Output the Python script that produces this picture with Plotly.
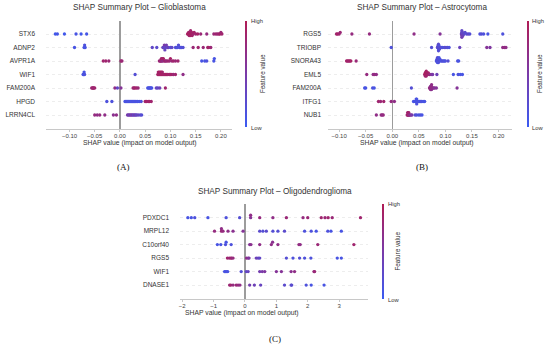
import numpy as np
import plotly.graph_objects as go

W, H = 550, 350

# ---------------- Panel A: Glioblastoma ----------------
gbm_features = ["STX6", "ADNP2", "AVPR1A", "WIF1", "FAM200A", "HPGD", "LRRN4CL"]
gbm_stx6_shap = [-0.128, -0.124, -0.110, -0.087, -0.077, -0.066, 0.134, 0.135, 0.136, 0.137, 0.138, 0.138,
                 0.139, 0.140, 0.141, 0.142, 0.143, 0.145, 0.147, 0.150, 0.154, 0.160, 0.172, 0.186,
                 0.190, 0.193, 0.196, 0.198, 0.200, 0.202]
gbm_stx6_feat = [0.05, 0.08, 0.05, 0.1, 0.05, 0.08, 0.9, 0.95, 0.9, 0.85, 0.95, 0.9, 0.9, 0.85, 0.95, 0.9,
                 0.9, 0.85, 0.9, 0.85, 0.9, 0.8, 0.75, 0.8, 0.85, 0.8, 0.85, 0.9, 0.8, 0.85]
gbm_adnp2_shap = [-0.090, -0.071, -0.070, -0.069, 0.064, 0.073, 0.085, 0.087, 0.088, 0.089, 0.090, 0.092,
                  0.094, 0.096, 0.100, 0.103, 0.110, 0.112, 0.114, 0.116, 0.118, 0.120, 0.122, 0.125,
                  0.145, 0.155, 0.165, 0.174, 0.176, 0.180]
gbm_adnp2_feat = [0.1, 0.1, 0.15, 0.1, 0.3, 0.25, 0.4, 0.3, 0.5, 0.35, 0.3, 0.45, 0.3, 0.4, 0.2, 0.3, 0.15,
                  0.2, 0.15, 0.2, 0.15, 0.2, 0.15, 0.2, 0.8, 0.85, 0.8, 0.85, 0.9, 0.8]
gbm_avpr1a_shap = [-0.033, -0.028, -0.022, 0.002, 0.004, 0.078, 0.080, 0.081, 0.082, 0.083, 0.084, 0.085,
                   0.086, 0.088, 0.090, 0.092, 0.095, 0.098, 0.100, 0.103, 0.106, 0.110, 0.115,
                   0.162, 0.168, 0.172, 0.186, 0.187]
gbm_avpr1a_feat = [0.85, 0.85, 0.8, 0.85, 0.8, 0.8, 0.85, 0.75, 0.9, 0.8, 0.85, 0.7, 0.9, 0.8, 0.85, 0.75,
                   0.85, 0.8, 0.9, 0.8, 0.85, 0.8, 0.85, 0.1, 0.1, 0.15, 0.1, 0.1]
gbm_wif1_shap = [-0.073, -0.072, -0.071, -0.070, 0.030, 0.075, 0.076, 0.077, 0.078, 0.079, 0.080, 0.081,
                 0.082, 0.083, 0.084, 0.085, 0.087, 0.089, 0.091, 0.093, 0.095, 0.098, 0.100, 0.103,
                 0.106, 0.110, 0.125]
gbm_wif1_feat = [0.1, 0.1, 0.1, 0.15, 0.2, 0.9, 0.85, 0.9, 0.95, 0.9, 0.85, 0.9, 0.95, 0.9, 0.85, 0.9, 0.9,
                 0.85, 0.9, 0.95, 0.85, 0.9, 0.85, 0.9, 0.8, 0.85, 0.7]
gbm_fam200a_shap = [-0.056, -0.054, -0.053, -0.052, -0.050, -0.010, -0.005, 0.002, 0.026, 0.028, 0.030,
                    0.033, 0.036, 0.055, 0.057, 0.058, 0.060, 0.061, 0.063, 0.072, 0.075, 0.079, 0.090]
gbm_fam200a_feat = [0.8, 0.85, 0.9, 0.8, 0.85, 0.7, 0.3, 0.6, 0.85, 0.8, 0.9, 0.85, 0.8, 0.1, 0.15, 0.1,
                    0.1, 0.15, 0.1, 0.35, 0.3, 0.4, 0.85]
gbm_hpgd_shap = [-0.026, -0.016, 0.010, 0.012, 0.014, 0.016, 0.018, 0.020, 0.022, 0.024, 0.026, 0.028,
                 0.030, 0.032, 0.035, 0.038, 0.042, 0.050, 0.053, 0.056, 0.059, 0.062]
gbm_hpgd_feat = [0.15, 0.15, 0.1, 0.1, 0.15, 0.1, 0.1, 0.15, 0.1, 0.1, 0.15, 0.1, 0.1, 0.15, 0.1, 0.1, 0.15,
                 0.85, 0.9, 0.85, 0.9, 0.85]
gbm_lrrn4cl_shap = [-0.050, -0.045, -0.040, -0.030, -0.013, -0.007, 0.015, 0.017, 0.019, 0.021, 0.023,
                    0.025, 0.027, 0.029, 0.031, 0.033, 0.036, 0.040, 0.043]
gbm_lrrn4cl_feat = [0.75, 0.7, 0.75, 0.7, 0.65, 0.7, 0.45, 0.5, 0.35, 0.55, 0.4, 0.5, 0.3, 0.45, 0.4, 0.3,
                    0.35, 0.25, 0.2]

# ---------------- Panel B: Astrocytoma ----------------
ast_features = ["RGS5", "TRIOBP", "SNORA43", "EML5", "FAM200A", "ITFG1", "NUB1"]
ast_rgs5_shap = [-0.105, -0.103, -0.100, -0.098, -0.076, -0.043, 0.041, 0.090, 0.130, 0.131, 0.131,
                 0.131, 0.131, 0.132, 0.132, 0.133, 0.135, 0.137, 0.140, 0.143, 0.146, 0.165, 0.168,
                 0.172, 0.180, 0.208]
ast_rgs5_feat = [0.85, 0.9, 0.85, 0.8, 0.75, 0.75, 0.7, 0.6, 0.4, 0.35, 0.5, 0.3, 0.45, 0.35, 0.3, 0.4,
                 0.3, 0.25, 0.2, 0.3, 0.2, 0.15, 0.2, 0.15, 0.1, 0.15]
ast_triobp_shap = [-0.002, 0.074, 0.085, 0.086, 0.086, 0.087, 0.087, 0.087, 0.088, 0.088, 0.089, 0.090,
                   0.092, 0.095, 0.098, 0.101, 0.104, 0.107, 0.127, 0.178, 0.184, 0.208, 0.211, 0.214]
ast_triobp_feat = [0.15, 0.2, 0.25, 0.2, 0.3, 0.15, 0.25, 0.2, 0.3, 0.15, 0.2, 0.25, 0.2, 0.15, 0.2, 0.25,
                   0.2, 0.15, 0.35, 0.6, 0.55, 0.7, 0.75, 0.7]
ast_snora43_shap = [-0.086, -0.084, -0.082, -0.080, -0.078, -0.068, 0.083, 0.084, 0.084, 0.085, 0.085,
                    0.086, 0.086, 0.087, 0.088, 0.089, 0.090, 0.092, 0.094, 0.096, 0.098, 0.100, 0.105,
                    0.123, 0.125]
ast_snora43_feat = [0.9, 0.85, 0.9, 0.85, 0.9, 0.8, 0.15, 0.2, 0.1, 0.15, 0.25, 0.1, 0.2, 0.15, 0.1, 0.2,
                    0.15, 0.1, 0.15, 0.2, 0.1, 0.15, 0.2, 0.15, 0.1]
ast_eml5_shap = [-0.048, -0.036, -0.033, -0.030, 0.061, 0.062, 0.062, 0.063, 0.063, 0.064, 0.064, 0.065,
                 0.066, 0.067, 0.068, 0.070, 0.073, 0.076, 0.084, 0.115, 0.124, 0.128, 0.132]
ast_eml5_feat = [0.75, 0.7, 0.75, 0.7, 0.9, 0.95, 0.85, 0.9, 0.95, 0.85, 0.9, 0.95, 0.9, 0.85, 0.9, 0.8,
                 0.6, 0.5, 0.4, 0.1, 0.15, 0.1, 0.1]
ast_fam200a_shap = [-0.052, -0.050, -0.037, -0.034, 0.036, 0.070, 0.071, 0.072, 0.072, 0.073, 0.073,
                    0.074, 0.074, 0.075, 0.076, 0.078, 0.080, 0.083, 0.122]
ast_fam200a_feat = [0.1, 0.1, 0.15, 0.1, 0.2, 0.7, 0.75, 0.65, 0.7, 0.75, 0.7, 0.65, 0.7, 0.75, 0.7, 0.65,
                    0.6, 0.6, 0.6]
ast_itfg1_shap = [-0.026, -0.022, -0.016, -0.002, 0.004, 0.040, 0.043, 0.044, 0.045, 0.045, 0.046, 0.046,
                  0.046, 0.047, 0.048, 0.049, 0.051, 0.053, 0.055, 0.058, 0.061]
ast_itfg1_feat = [0.85, 0.8, 0.85, 0.75, 0.7, 0.1, 0.15, 0.1, 0.1, 0.15, 0.1, 0.1, 0.15, 0.1, 0.1, 0.15,
                  0.1, 0.1, 0.15, 0.1, 0.1]
ast_nub1_shap = [-0.030, -0.021, -0.019, -0.017, 0.028, 0.029, 0.029, 0.030, 0.030, 0.031, 0.031, 0.032,
                 0.033, 0.035, 0.037, 0.043, 0.046, 0.050, 0.053, 0.056]
ast_nub1_feat = [0.7, 0.75, 0.7, 0.75, 0.85, 0.9, 0.8, 0.85, 0.9, 0.75, 0.85, 0.8, 0.7, 0.6, 0.5, 0.2,
                 0.15, 0.1, 0.15, 0.1]

# ---------------- Panel C: Oligodendroglioma ----------------
oli_features = ["PDXDC1", "MRPL12", "C10orf40", "RGS5", "WIF1", "DNASE1"]
oli_pdxdc1_shap = [-1.82, -1.71, -1.60, -1.18, -0.60, -0.17, 0.18, 0.18, 0.47, 0.89, 1.32, 1.85, 2.00,
                   2.43, 2.55, 2.65, 2.78, 3.68]
oli_pdxdc1_feat = [0.1, 0.1, 0.15, 0.1, 0.15, 0.2, 0.6, 0.7, 0.75, 0.7, 0.8, 0.75, 0.8, 0.85, 0.8, 0.85,
                   0.8, 0.85]
oli_mrpl12_shap = [-0.97, -0.75, -0.75, -0.70, -0.54, -0.38, -0.06, 0.47, 0.57, 0.68, 0.89, 1.05, 1.26,
                   1.90, 2.11, 2.27, 2.64, 2.74, 3.07]
oli_mrpl12_feat = [0.75, 0.8, 0.7, 0.75, 0.7, 0.65, 0.6, 0.25, 0.2, 0.25, 0.2, 0.2, 0.25, 0.15, 0.15, 0.1,
                   0.15, 0.1, 0.1]
oli_c10orf40_shap = [-0.88, -0.77, -0.62, -0.60, -0.44, 0.15, 0.19, 0.47, 0.84, 0.88, 1.05, 1.72, 1.76,
                     2.32, 3.47]
oli_c10orf40_feat = [0.1, 0.1, 0.15, 0.1, 0.15, 0.6, 0.65, 0.7, 0.7, 0.65, 0.7, 0.75, 0.7, 0.8, 0.85]
oli_rgs5_shap = [-0.56, -0.50, -0.45, -0.42, -0.38, 0.05, 0.10, 0.13, 0.36, 0.42, 0.47, 1.32, 1.53, 1.74,
                 1.90, 2.10, 2.94, 3.07]
oli_rgs5_feat = [0.85, 0.8, 0.85, 0.8, 0.75, 0.7, 0.6, 0.55, 0.4, 0.35, 0.3, 0.2, 0.15, 0.2, 0.15, 0.15,
                 0.1, 0.1]
oli_wif1_shap = [-0.65, -0.62, -0.58, -0.55, -0.12, 0.04, 0.10, 0.47, 0.55, 0.63, 1.00, 1.16, 1.47, 1.58,
                 2.20, 2.22]
oli_wif1_feat = [0.1, 0.1, 0.15, 0.1, 0.2, 0.3, 0.35, 0.45, 0.5, 0.55, 0.6, 0.6, 0.65, 0.7, 0.75, 0.8]
oli_dnase1_shap = [-0.49, -0.45, -0.38, -0.28, -0.22, -0.16, 0.15, 0.30, 0.50, 1.26, 1.47, 1.49, 1.95,
                   2.11, 2.52]
oli_dnase1_feat = [0.8, 0.85, 0.75, 0.8, 0.75, 0.7, 0.45, 0.4, 0.35, 0.25, 0.2, 0.25, 0.15, 0.1, 0.1]

gbm_shap = [gbm_stx6_shap, gbm_adnp2_shap, gbm_avpr1a_shap, gbm_wif1_shap, gbm_fam200a_shap,
            gbm_hpgd_shap, gbm_lrrn4cl_shap]
gbm_feat = [gbm_stx6_feat, gbm_adnp2_feat, gbm_avpr1a_feat, gbm_wif1_feat, gbm_fam200a_feat,
            gbm_hpgd_feat, gbm_lrrn4cl_feat]
ast_shap = [ast_rgs5_shap, ast_triobp_shap, ast_snora43_shap, ast_eml5_shap, ast_fam200a_shap,
            ast_itfg1_shap, ast_nub1_shap]
ast_feat = [ast_rgs5_feat, ast_triobp_feat, ast_snora43_feat, ast_eml5_feat, ast_fam200a_feat,
            ast_itfg1_feat, ast_nub1_feat]
oli_shap = [oli_pdxdc1_shap, oli_mrpl12_shap, oli_c10orf40_shap, oli_rgs5_shap, oli_wif1_shap,
            oli_dnase1_shap]
oli_feat = [oli_pdxdc1_feat, oli_mrpl12_feat, oli_c10orf40_feat, oli_rgs5_feat, oli_wif1_feat,
            oli_dnase1_feat]

gbm_ticks = [-0.10, -0.05, 0.00, 0.05, 0.10, 0.15, 0.20]
ast_ticks = [-0.10, -0.05, 0.00, 0.05, 0.10, 0.15, 0.20]
oli_ticks = [-2, -1, 0, 1, 2, 3]

COLORSCALE = [[0.0, "#3b5bf2"], [0.5, "#7a3aa8"], [1.0, "#b01c55"]]
FONT = "Liberation Sans, Arial, sans-serif"


def swarm_offsets(vals, row_height=0.4, nbins=100):
    v = np.asarray(vals, dtype=float)
    quant = np.round(nbins * (v - v.min()) / (v.max() - v.min() + 1e-8))
    order = np.argsort(quant, kind="stable")
    ys = np.zeros(len(v))
    layer, last = 0, None
    for i in order:
        if quant[i] != last:
            layer = 0
        ys[i] = np.ceil(layer / 2) * ((layer % 2) * 2 - 1)
        layer += 1
        last = quant[i]
    ys *= 0.9 * (row_height / np.max(ys + 1))
    return ys


def px(x):
    return x / W


def py(y):
    return 1 - y / H


fig = go.Figure()

panels = [
    dict(feats=gbm_features, shap=gbm_shap, fv=gbm_feat, ax="", ca="coloraxis"),
    dict(feats=ast_features, shap=ast_shap, fv=ast_feat, ax="2", ca="coloraxis2"),
    dict(feats=oli_features, shap=oli_shap, fv=oli_feat, ax="3", ca="coloraxis3"),
]

for p in panels:
    n = len(p["feats"])
    for i, (s, f) in enumerate(zip(p["shap"], p["fv"])):
        pos = n - 1 - i
        ys = swarm_offsets(s) + pos
        fig.add_trace(go.Scatter(
            x=s, y=ys, mode="markers", xaxis="x" + p["ax"], yaxis="y" + p["ax"],
            marker=dict(size=3.3, color=f, coloraxis=p["ca"], line=dict(width=0)),
            showlegend=False, hoverinfo="skip"))

xcommon = dict(showgrid=False, zeroline=True, zerolinecolor="#9c9c9c", zerolinewidth=1.5,
               showline=True, linecolor="#c8c8c8", linewidth=1, ticks="outside", ticklen=2,
               tickcolor="#c8c8c8", ticklabelstandoff=-1,
               tickfont=dict(size=6, color="#444", family=FONT), fixedrange=True)
ycommon = dict(showgrid=True, gridcolor="#e6e6e6", griddash="dot", gridwidth=0.7, zeroline=False,
               showline=False, ticks="", tickfont=dict(size=6.5, color="#333", family=FONT), fixedrange=True)


def cbar(x, ytop, ybot):
    return dict(colorscale=COLORSCALE, cmin=0, cmax=1, showscale=True,
                colorbar=dict(x=px(x), xanchor="left", y=py(ytop), yanchor="top",
                              len=(ybot - ytop) / H, lenmode="fraction", thickness=1.5,
                              thicknessmode="pixels", outlinewidth=0, showticklabels=False,
                              ticks="", xpad=0, ypad=0))


fig.update_layout(
    width=W, height=H, margin=dict(l=0, r=0, t=0, b=0), autosize=False,
    paper_bgcolor="white", plot_bgcolor="white", font=dict(family=FONT),
    xaxis=dict(xcommon, domain=[px(46), px(232)], range=[-0.1465, 0.222], anchor="y",
               tickvals=gbm_ticks, tickformat=".2f"),
    yaxis=dict(ycommon, domain=[py(128.5), py(20.5)], range=[-1, 7], anchor="x",
               tickvals=list(range(7)), ticktext=gbm_features[::-1], ticklabelstandoff=10),
    xaxis2=dict(xcommon, domain=[px(328), px(512)], range=[-0.121, 0.2254], anchor="y2",
                tickvals=ast_ticks, tickformat=".2f"),
    yaxis2=dict(ycommon, domain=[py(128.5), py(20.5)], range=[-1, 7], anchor="x2",
                tickvals=list(range(7)), ticktext=ast_features[::-1], ticklabelstandoff=6),
    xaxis3=dict(xcommon, domain=[px(180), px(368)], range=[-2.07, 3.92], anchor="y3",
                tickvals=oli_ticks, tickformat="d"),
    yaxis3=dict(ycommon, domain=[py(298.5), py(204.2)], range=[-1, 6], anchor="x3",
                tickvals=list(range(6)), ticktext=oli_features[::-1], ticklabelstandoff=10),
    coloraxis=cbar(245, 21, 127),
    coloraxis2=cbar(526.5, 21, 127),
    coloraxis3=cbar(382, 204, 299),
)


def ann(x, y, text, size, **kw):
    d = dict(x=px(x), y=py(y), xref="paper", yref="paper", text=text, showarrow=False,
             font=dict(size=size, color=kw.pop("color", "#333"), family=kw.pop("family", FONT)),
             xanchor=kw.pop("xanchor", "center"), yanchor=kw.pop("yanchor", "middle"))
    d.update(kw)
    fig.add_annotation(**d)


# titles
ann(140, 7.5, "SHAP Summary Plot – Glioblastoma", 8.2)
ann(421.5, 7.5, "SHAP Summary Plot – Astrocytoma", 8.2)
ann(275, 191.5, "SHAP Summary Plot – Oligodendroglioma", 8.2)
# x-axis titles
ann(140, 143.5, "SHAP value (impact on model output)", 6.8)
ann(417, 143.5, "SHAP value (impact on model output)", 6.8)
ann(242, 312.5, "SHAP value (impact on model output)", 6.8)
# colorbar labels
for xb, yt, yb, xf in [(245, 21, 127, 262), (526.5, 21, 127, 539), (382, 204, 299, 397)]:
    ann(xb + 3.5, yt, "High", 5.8, xanchor="left")
    ann(xb + 3.5, yb + 0.5, "Low", 5.8, xanchor="left")
    ann(xf, (yt + yb) / 2, "Feature value", 6.3, textangle=-90)
# panel labels
ann(123, 166.5, "(A)", 9, family="Liberation Serif, Times New Roman, serif", color="#111")
ann(421.5, 166.5, "(B)", 9, family="Liberation Serif, Times New Roman, serif", color="#111")
ann(275, 339, "(C)", 9, family="Liberation Serif, Times New Roman, serif", color="#111")

fig.write_html("out.html", config={"displayModeBar": False, "staticPlot": True},
               post_script="document.body.style.margin='0';document.body.style.padding='0';")
